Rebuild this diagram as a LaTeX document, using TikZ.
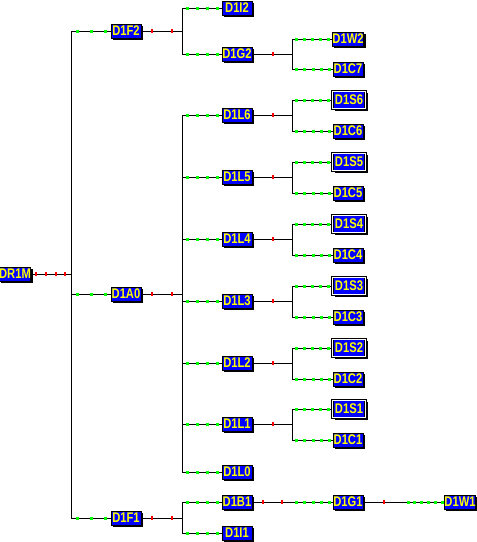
\documentclass[tikz,border=0pt]{standalone}
\usepackage{fontspec}
\setsansfont{Liberation Sans}
\newfontfamily\blkfont{Liberation Sans Bold}[FakeStretch=0.8]
\usepackage{tikz}
\usetikzlibrary{shadows}
\usetikzlibrary{decorations.markings}
\usetikzlibrary{positioning}
\definecolor{tr-box}{HTML}{0000FF}
\definecolor{tr-text}{HTML}{FFFF00}
\definecolor{tr-in}{HTML}{00FF00}
\definecolor{tr-out}{HTML}{FF0000}

\begin{document}
\begin{tikzpicture}[
    x=1pt, y=-1pt,
    blk/.style={draw=black, fill=tr-box, text=tr-text, line width=0.8pt, minimum width=30pt, minimum height=14pt, inner sep=0pt, font=\blkfont\fontsize{14}{14}\selectfont, drop shadow={shadow xshift=2pt, shadow yshift=-2pt, fill=black, opacity=1}},
    sblk/.style={blk, double=white, double distance=1.2pt, line width=0.6pt, minimum width=33pt, minimum height=17.5pt},
    gdot/.style={fill=tr-in, inner sep=0pt, minimum size=3pt},
    rdot/.style={fill=tr-out, inner sep=0pt, minimum width=2pt, minimum height=4pt},
    wire/.style={draw=black, line width=0.9pt},
    grn/.style={postaction={decorate, decoration={markings, mark=between positions #1 with {\node[gdot]{};}}}},
    rd/.style={postaction={decorate, decoration={markings, mark=between positions #1 with {\node[rdot]{};}}}}
]
\useasboundingbox (0,0) rectangle (477,542);

% =========================================================================
% RAIZ
% =========================================================================
\node[blk] (DR1M) at (15,274) {DR1M};
\coordinate (b0) at (71,274);
\draw[wire, rd={0.12 and 0.9 step 0.245}] (DR1M) -- (b0);


% =========================================================================
% NIVEL 1
% =========================================================================
\node[blk] (D1F2) at (126,31) {D1F2};
\node[blk] (D1A0) at (126,294) {D1A0};
\node[blk] (D1F1) at (126,518) {D1F1};

\draw[wire] (b0 |- D1F2) -- (b0 |- D1F1);
\draw[wire, grn={0.17 and 0.9 step 0.35}] (b0 |- D1F2) -- (D1F2);
\draw[wire, grn={0.17 and 0.9 step 0.35}] (b0 |- D1A0) -- (D1A0);
\draw[wire, grn={0.17 and 0.9 step 0.35}] (b0 |- D1F1) -- (D1F1);

\coordinate (bF2) at (182,31);
\coordinate (bA0) at (182,294);
\coordinate (bF1) at (182,518);
\draw[wire, rd={0.27 and 0.8 step 0.49}] (D1F2) -- (bF2);
\draw[wire, rd={0.27 and 0.8 step 0.49}] (D1A0) -- (bA0);
\draw[wire, rd={0.27 and 0.8 step 0.49}] (D1F1) -- (bF1);


% =========================================================================
% NIVEL 2: D1F2
% =========================================================================
\node[blk] (D1I2) at (237,8) {D1I2};
\node[blk] (D1G2) at (237,54) {D1G2};
\draw[wire] (bF2 |- D1I2) -- (bF2 |- D1G2);
\draw[wire, grn={0.15 and 0.95 step 0.25}] (bF2 |- D1I2) -- (D1I2);
\draw[wire, grn={0.15 and 0.95 step 0.25}] (bF2 |- D1G2) -- (D1G2);

\node[blk] (D1W2) at (348,39) {D1W2};
\node[blk] (D1C7) at (348,69) {D1C7};
\coordinate (bG2) at (292,54);
\draw[wire, rd={0.52 and 0.6 step 0.5}] (D1G2) -- (bG2);
\draw[wire] (bG2 |- D1W2) -- (bG2 |- D1C7);
\draw[wire, grn={0.12 and 0.95 step 0.2}] (bG2 |- D1W2) -- (D1W2);
\draw[wire, grn={0.12 and 0.95 step 0.2}] (bG2 |- D1C7) -- (D1C7);


% =========================================================================
% NIVEL 2: D1A0 (D1L6 ... D1L0)
% =========================================================================
\node[blk] (D1L0) at (237,472) {D1L0};
\draw[wire] (bA0 |- D1L0) -- (bA0 |- 0,115);
\draw[wire, grn={0.15 and 0.95 step 0.25}] (bA0 |- D1L0) -- (D1L0);

\foreach \k/\y in {6/115, 5/177, 4/239, 3/301, 2/363, 1/424} {
    \node[blk] (D1L\k) at (237,\y) {D1L\k};
    \node[sblk] (D1S\k) at (349,\y-15) {D1S\k};
    \node[blk] (D1C\k) at (348,\y+16) {D1C\k};
    \coordinate (bL\k) at (292,\y);
    \draw[wire, grn={0.15 and 0.95 step 0.25}] (bA0 |- D1L\k) -- (D1L\k);
    \draw[wire, rd={0.52 and 0.6 step 0.5}] (D1L\k) -- (bL\k);
    \draw[wire] (bL\k |- D1S\k) -- (bL\k |- D1C\k);
    \draw[wire, grn={0.12 and 0.95 step 0.2}] (bL\k |- D1S\k) -- (D1S\k);
    \draw[wire, grn={0.12 and 0.95 step 0.2}] (bL\k |- D1C\k) -- (D1C\k);
}


% =========================================================================
% NIVEL 2: D1F1
% =========================================================================
\node[blk] (D1B1) at (237,502) {D1B1};
\node[blk] (D1I1) at (237,533) {D1I1};
\draw[wire] (bF1 |- D1B1) -- (bF1 |- D1I1);
\draw[wire, grn={0.15 and 0.95 step 0.25}] (bF1 |- D1B1) -- (D1B1);
\draw[wire, grn={0.15 and 0.95 step 0.25}] (bF1 |- D1I1) -- (D1I1);

\node[blk] (D1G1) at (348,502) {D1G1};
\node[blk] (D1W1) at (460,502) {D1W1};
\coordinate (bB1) at (292,502);
\coordinate (bG1) at (404,502);
\draw[wire, rd={0.27 and 0.8 step 0.49}] (D1B1) -- (bB1);
\draw[wire, grn={0.12 and 0.95 step 0.2}] (bB1) -- (D1G1);
\draw[wire, rd={0.5 and 0.6 step 0.5}] (D1G1) -- (bG1);
\draw[wire, grn={0.1 and 0.97 step 0.17}] (bG1) -- (D1W1);

\end{tikzpicture}
\end{document}
